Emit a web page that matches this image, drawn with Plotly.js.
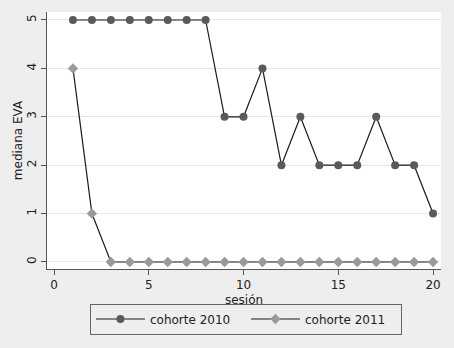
<!DOCTYPE html>
<html>
<head>
<meta charset="utf-8">
<script src="https://cdn.plot.ly/plotly-3.0.1.min.js"></script>
<style>html,body{margin:0;padding:0;background:#eeeeee;}#chart{width:454px;height:348px;}</style>
</head>
<body>
<div id="chart"></div>
<script>
var sesion = [1,2,3,4,5,6,7,8,9,10,11,12,13,14,15,16,17,18,19,20];
var cohorte2010 = [5,5,5,5,5,5,5,5,3,3,4,2,3,2,2,2,3,2,2,1];
var cohorte2011 = [4,1,0,0,0,0,0,0,0,0,0,0,0,0,0,0,0,0,0,0];
var xTicks = [0,5,10,15,20];
var yTicks = [0,1,2,3,4,5];

var traces = [
  {x: sesion, y: cohorte2010, name: 'cohorte 2010', mode: 'lines+markers',
   line: {color: '#1a1a1a', width: 1.2},
   marker: {symbol: 'circle', size: 8, color: '#5a5a5a'}},
  {x: sesion, y: cohorte2011, name: 'cohorte 2011', mode: 'lines+markers',
   line: {color: '#1a1a1a', width: 1.2},
   marker: {symbol: 'diamond', size: 8, color: '#9a9a9a'}}
];

var font = {family: 'DejaVu Sans, sans-serif', size: 12, color: '#222'};
var layout = {
  width: 454, height: 348,
  margin: {l: 47, r: 13, t: 12, b: 79},
  paper_bgcolor: '#eeeeee', plot_bgcolor: '#ffffff',
  font: font,
  showlegend: true,
  xaxis: {range: [-0.37, 20.42], tickvals: xTicks, ticktext: xTicks.map(String),
    showgrid: false, zeroline: false, showline: true, linecolor: '#555', linewidth: 1,
    ticks: 'outside', ticklen: 5, tickcolor: '#555',
    title: {text: 'sesión', font: {size: 12}, standoff: 4}},
  yaxis: {range: [-0.145, 5.165], tickvals: yTicks, ticktext: yTicks.map(String),
    tickangle: -90, showgrid: true, gridcolor: '#e6e6e6', gridwidth: 1, zeroline: false,
    showline: true, linecolor: '#555', linewidth: 1,
    ticks: 'outside', ticklen: 5, tickcolor: '#555',
    title: {text: 'mediana EVA', font: {size: 12}, standoff: 0}},
  legend: {orientation: 'h', x: 0.109, xanchor: 'left', y: -0.1946, yanchor: 'middle',
    bgcolor: '#eeeeee', bordercolor: '#666', borderwidth: 1,
    itemwidth: 49, entrywidth: 91, entrywidthmode: 'pixels', font: {size: 12}}
};
Plotly.newPlot('chart', traces, layout, {displayModeBar: false, staticPlot: true});
</script>
</body>
</html>
